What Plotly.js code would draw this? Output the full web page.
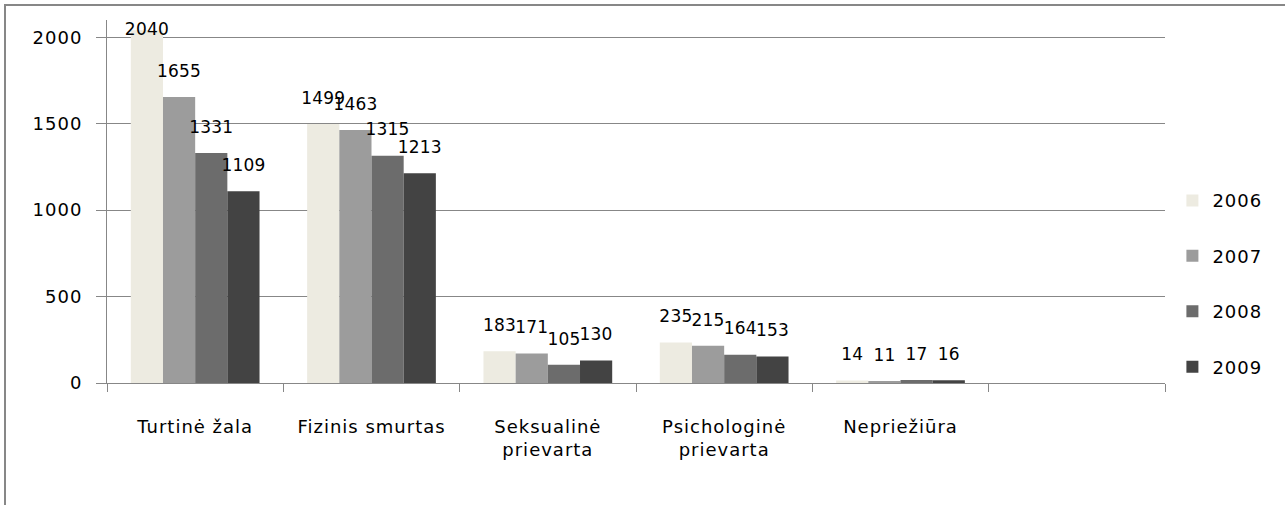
<!DOCTYPE html>
<html>
<head>
<meta charset="utf-8">
<script src="https://cdn.plot.ly/plotly-3.0.1.min.js"></script>
<style>
  html, body { margin: 0; padding: 0; background: #fff; }
  #chart { position: absolute; left: 0; top: 0; width: 1285px; height: 505px; }
  #chart text { letter-spacing: 1px; }
  #chart .textpoint text { letter-spacing: 0.2px; }
  #frame { position: absolute; left: 4px; top: 4px; width: 1281px; height: 501px;
           border-top: 2px solid #878787; border-left: 2px solid #878787;
           box-sizing: border-box; pointer-events: none; }
</style>
</head>
<body>
<div id="chart"></div>
<div id="frame"></div>
<script>
const categories = ["Turtinė žala", "Fizinis smurtas", "Seksualinė<br>prievarta", "Psichologinė<br>prievarta", "Nepriežiūra"];
const allSlots = ["Turtinė žala", "Fizinis smurtas", "Seksualinė<br>prievarta", "Psichologinė<br>prievarta", "Nepriežiūra", " "];
const years = ["2006", "2007", "2008", "2009"];
const v2006 = [2040, 1499, 183, 235, 14];
const v2007 = [1655, 1463, 171, 215, 11];
const v2008 = [1331, 1315, 105, 164, 17];
const v2009 = [1109, 1213, 130, 153, 16];
const yTicks = [0, 500, 1000, 1500, 2000];

const series = [v2006, v2007, v2008, v2009];
const colors = ["#EDEBE1", "#9C9C9C", "#6C6C6C", "#434343"];
const fontFam = "DejaVu Sans, sans-serif";

const bars = series.map((vals, i) => ({
  type: "bar",
  name: years[i],
  x: categories,
  y: vals,
  legendgroup: "g" + i,
  marker: { color: colors[i], line: { width: 0 } },
  hoverinfo: "none"
}));

// value labels, grouped like the bars
const labels = series.map((vals, i) => ({
  type: "scatter",
  mode: "markers+text",
  x: categories,
  y: vals,
  showlegend: false,
  legendgroup: "g" + i,
  text: vals.map(String),
  textposition: vals.map(v => (v > 2000 ? "middle center" : "top center")),
  textfont: { family: fontFam, size: 17, color: "#000" },
  marker: { size: 24, opacity: 0 },
  cliponaxis: false,
  hoverinfo: "none"
}));

const layout = {
  width: 1285, height: 505,
  margin: { l: 107, r: 120, t: 20, b: 122 },
  paper_bgcolor: "rgba(0,0,0,0)",
  plot_bgcolor: "#fff",
  barmode: "group",
  bargap: 0.27,
  bargroupgap: 0,
  scattermode: "group",
  scattergap: 0.27,
  showlegend: true,
  legend: {
    x: 1.007, xanchor: "left", y: 0.553, yanchor: "top",
    font: { family: fontFam, size: 18, color: "#000" },
    traceorder: "grouped", tracegroupgap: 29,
    itemwidth: 30
  },
  xaxis: {
    type: "category",
    categoryorder: "array",
    categoryarray: allSlots,
    range: [-0.5, 5.5],
    showline: true, linecolor: "#878787", linewidth: 1,
    ticks: "outside", tickson: "boundaries", ticklen: 8, tickcolor: "#878787",
    tickfont: { family: fontFam, size: 18, color: "#000" },
    ticklabelstandoff: 27,
    showgrid: false, zeroline: false, fixedrange: true
  },
  yaxis: {
    range: [0, 2100],
    tickvals: yTicks,
    ticktext: yTicks.map(String),
    showline: true, linecolor: "#878787", linewidth: 1,
    ticks: "outside", ticklen: 10, tickcolor: "#878787",
    showgrid: true, gridcolor: "#878787", gridwidth: 1,
    zeroline: false,
    tickfont: { family: fontFam, size: 18, color: "#000" },
    ticklabelstandoff: 10,
    fixedrange: true
  }
};

Plotly.newPlot("chart", bars.concat(labels), layout, { displayModeBar: false, staticPlot: true });
</script>
</body>
</html>
